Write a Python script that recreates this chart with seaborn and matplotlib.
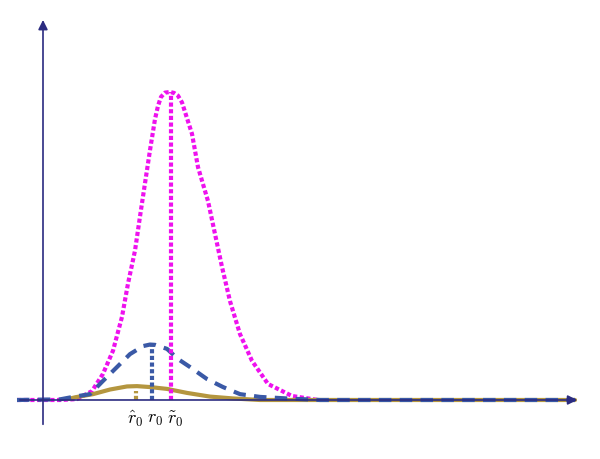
import numpy as np
import pandas as pd
import matplotlib
matplotlib.use("Agg")
import matplotlib.pyplot as plt
import seaborn as sns

# curve samples (r, density)
r_tilde = [-1.04, 0.68, 1.36, 1.96, 2.40, 2.80, 3.16, 3.40, 3.68, 3.88, 4.08, 4.28, 4.48, 4.60, 4.72,
           4.88, 5.08, 5.24, 5.40, 5.56, 5.96, 6.20, 6.60, 6.88, 7.16, 7.48, 7.88, 8.36, 9.00, 9.96,
           10.76, 11.00]
p_tilde = [0.0, 0.0, 0.003, 0.029, 0.085, 0.160, 0.270, 0.378, 0.485, 0.596, 0.704, 0.811, 0.912, 0.955, 0.984,
           0.998, 1.0, 0.997, 0.988, 0.966, 0.864, 0.756, 0.646, 0.539, 0.432, 0.321, 0.214, 0.127, 0.052, 0.013,
           0.003, 0.0]

r_mid = [-1.04, 0.68, 1.20, 1.88, 2.40, 2.96, 3.48, 4.00, 4.28, 4.48, 4.96, 5.40, 5.88, 6.56,
         7.20, 7.88, 8.68, 9.76, 11.08, 21.28]
p_mid = [0.0, 0.002, 0.010, 0.019, 0.062, 0.107, 0.149, 0.175, 0.180, 0.179, 0.166, 0.133, 0.107, 0.068,
         0.042, 0.019, 0.010, 0.005, 0.0, 0.0]

r_hat = [1.00, 1.30, 2.00, 2.68, 3.36, 3.76, 4.28, 4.96, 5.76, 6.68, 7.60, 8.68, 21.28]
p_hat = [0.003, 0.009, 0.019, 0.034, 0.044, 0.045, 0.042, 0.036, 0.023, 0.011, 0.005, 0.0, 0.0]

# peak positions and heights of the vertical markers
peak_r = [3.72, 4.36, 5.12]
peak_h = [0.03, 0.179, 1.0]
peak_labels = [r'$\hat{r}_0$', r'$r_0$', r'$\tilde{r}_0$']
label_r = [3.68, 4.48, 5.28]

gold = '#b4963f'
blue = '#3a59a6'
magenta = '#ee11ee'
navy = '#2b2b80'

sns.set_style("white")
plt.rcParams['mathtext.fontset'] = 'cm'

fig = plt.figure(figsize=(6, 4.6), dpi=100)
ax = fig.add_axes([0, 0, 1, 1])
ax.set_xlim(-1.72, 22.28)
ax.set_ylim(-0.1916, 1.302)
ax.axis('off')

# axes with arrow heads
ax.annotate('', xy=(21.48, 0), xytext=(-1.04, 0),
            arrowprops=dict(arrowstyle='-|>', color=navy, lw=1.2, mutation_scale=14))
ax.annotate('', xy=(0, 1.243), xytext=(0, -0.088),
            arrowprops=dict(arrowstyle='-|>', color=navy, lw=1.2, mutation_scale=14))

df_hat = pd.DataFrame({'r': r_hat, 'p': p_hat})
df_mid = pd.DataFrame({'r': r_mid, 'p': p_mid})
df_tilde = pd.DataFrame({'r': r_tilde, 'p': p_tilde})

# magenta underneath, then gold, blue dashed on top
l3 = sns.lineplot(data=df_tilde, x='r', y='p', ax=ax, color=magenta, lw=3, sort=False).lines[-1]
l3.set_dashes((1, 0.6))
sns.lineplot(data=df_hat, x='r', y='p', ax=ax, color=gold, lw=3, sort=False)
l2 = sns.lineplot(data=df_mid, x='r', y='p', ax=ax, color=blue, lw=3, sort=False).lines[-1]
l2.set_dashes((3, 2))

for x, h, c in zip(peak_r, peak_h, [gold, blue, magenta]):
    ax.plot([x, x], [0, h], color=c, lw=3, dashes=(1, 0.6))

for x, lab in zip(label_r, peak_labels):
    ax.annotate(lab, xy=(x, 0), xytext=(0, -13), textcoords='offset points',
                ha='center', va='center', fontsize=13, color='black')

fig.savefig('out.png', dpi=100)
